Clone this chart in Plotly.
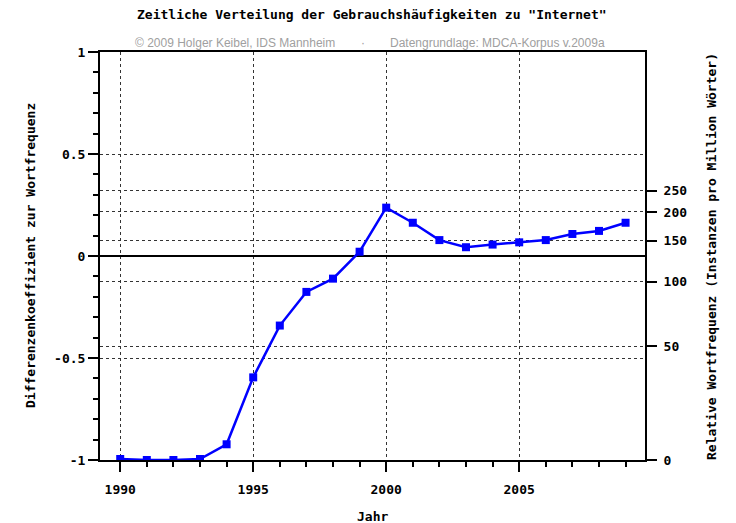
import plotly.graph_objects as go

years = list(range(1990, 2010))
coef = [-0.995, -1.0, -1.0, -0.995, -0.923, -0.595, -0.341, -0.176, -0.111, 0.021,
        0.237, 0.163, 0.078, 0.043, 0.056, 0.067, 0.078, 0.108, 0.123, 0.163]

left_ticks = [-1, -0.5, 0, 0.5, 1]
left_labels = ["-1", "-0.5", "0", "0.5", "1"]
x_ticks = [1990, 1995, 2000, 2005]

freq_ticks = [0, 50, 100, 150, 200, 250]
mean_freq = 129.0  # mean relative frequency (coefficient = 0)
freq_pos = [(f - mean_freq) / (f + mean_freq) for f in freq_ticks]

OFF = 8  # page body margin
W, H = 736 - OFF, 523 - OFF
L, T = 100 - OFF, 52 - OFF
pw, ph = 545, 408
R = W - L - pw
B = H - T - ph

def px(x):
    return (x - OFF - L) / pw

def py(y):
    return (H - B - (y - OFF)) / ph

mono = "DejaVu Sans Mono"
fs = 13

fig = go.Figure()
fig.add_trace(go.Scatter(
    x=years, y=coef, mode="lines+markers",
    line=dict(color="#0000ff", width=2.5),
    marker=dict(symbol="square", size=8, color="#0000ff"),
    showlegend=False, hoverinfo="skip"))
# invisible trace for the right axis
fig.add_trace(go.Scatter(x=[years[0]], y=[coef[0]], yaxis="y2", mode="markers",
                         marker=dict(opacity=0), showlegend=False, hoverinfo="skip"))

fig.update_layout(
    width=W, height=H,
    margin=dict(l=L, r=R, t=T, b=B),
    paper_bgcolor="white", plot_bgcolor="white",
    font=dict(family=mono, size=fs, color="black"),
    xaxis=dict(
        range=[1989.24, 2009.73], tickmode="array", tickvals=x_ticks,
        ticks="outside", ticklen=10, tickwidth=2, tickcolor="black",
        showline=True, linecolor="black", linewidth=2, mirror=True,
        showgrid=True, gridcolor="#333", griddash="dot", gridwidth=1,
        zeroline=False, ticklabelstandoff=6,
        tickfont=dict(family=mono, size=fs, weight="bold"),
        minor=dict(dtick=1, tick0=1990, ticks="outside", ticklen=5, tickwidth=2,
                   tickcolor="black", showgrid=False),
    ),
    yaxis=dict(
        range=[-1, 1], tickmode="array", tickvals=left_ticks, ticktext=left_labels,
        ticks="outside", ticklen=10, tickwidth=2, tickcolor="black",
        showline=True, linecolor="black", linewidth=2, mirror=False,
        showgrid=True, gridcolor="#333", griddash="dot", gridwidth=1,
        zeroline=True, zerolinecolor="black", zerolinewidth=2,
        tickfont=dict(family=mono, size=fs, weight="bold"),
        minor=dict(dtick=0.1, tick0=0, ticks="outside", ticklen=5, tickwidth=2,
                   tickcolor="black", showgrid=False),
    ),
    yaxis2=dict(
        range=[-1, 1], overlaying="y", side="right",
        tickmode="array", tickvals=freq_pos, ticktext=[str(f) for f in freq_ticks],
        ticks="outside", ticklen=10, tickwidth=2, tickcolor="black",
        showline=True, linecolor="black", linewidth=2,
        showgrid=True, gridcolor="#333", griddash="dot", gridwidth=1,
        zeroline=False, ticklabelstandoff=4,
        tickfont=dict(family=mono, size=fs, weight="bold"),
    ),
)

ann = []
ann.append(dict(text='Zeitliche Verteilung der Gebrauchshäufigkeiten zu "Internet"',
                x=px(372), y=py(14), font=dict(family=mono, size=fs, weight="bold")))
grey = "#a0a0a0"
sans = "Liberation Sans"
ann.append(dict(text="© 2009 Holger Keibel, IDS Mannheim", x=px(235), y=py(43),
                font=dict(family=sans, size=12, color=grey)))
ann.append(dict(text="·", x=px(363), y=py(43), font=dict(family=sans, size=12, color=grey)))
ann.append(dict(text="Datengrundlage: MDCA-Korpus v.2009a", x=px(497), y=py(43),
                font=dict(family=sans, size=12, color=grey)))
ann.append(dict(text="Differenzenkoeffizient zur Wortfrequenz", x=px(30), y=py(256),
                textangle=-90, font=dict(family=mono, size=fs, weight="bold")))
ann.append(dict(text="Relative Wortfrequenz (Instanzen pro Million Wörter)", x=px(711), y=py(257),
                textangle=-90, font=dict(family=mono, size=fs, weight="bold")))
ann.append(dict(text="Jahr", x=px(372), y=py(516),
                font=dict(family=mono, size=fs, weight="bold")))
for a in ann:
    a.update(xref="paper", yref="paper", showarrow=False, xanchor="center", yanchor="middle")
fig.update_layout(annotations=ann)

fig.write_html("out.html")
